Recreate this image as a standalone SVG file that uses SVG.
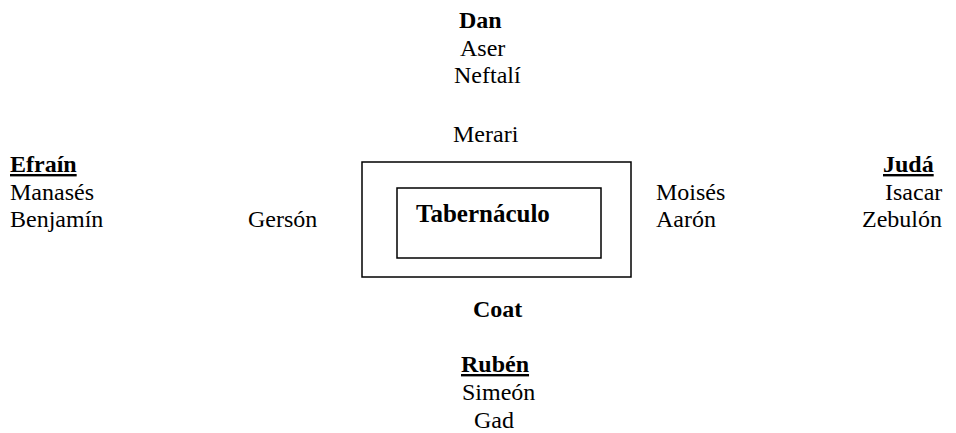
<svg xmlns="http://www.w3.org/2000/svg" width="956" height="433" viewBox="0 0 956 433">
<style>
text{font-family:"Liberation Serif","Times New Roman",serif;font-size:24px;fill:#000}
.b{font-weight:bold}
.u{text-decoration:underline}
.box{fill:none;stroke:#000;stroke-width:1.5}
</style>
<rect width="956" height="433" fill="#fff"/>
<g id="north">
<text class="b" x="459" y="28">Dan</text>
<text x="460" y="56">Aser</text>
<text x="454" y="83">Neftalí</text>
</g>
<g id="merari"><text x="453" y="142">Merari</text></g>
<g id="west">
<text class="b u" x="10" y="172">Efraín</text>
<text x="10" y="199.5">Manasés</text>
<text x="10" y="227">Benjamín</text>
</g>
<g id="gerson"><text x="248" y="227">Gersón</text></g>
<g id="tabernacle">
<rect class="box" x="362" y="162" width="269" height="115"/>
<rect class="box" x="397" y="188" width="204" height="70"/>
<text class="b" x="416" y="222" style="font-size:25px">Tabernáculo</text>
</g>
<g id="moises">
<text x="656" y="199.5">Moisés</text>
<text x="656" y="227">Aarón</text>
</g>
<g id="east">
<text class="b u" x="883" y="172">Judá</text>
<text x="885" y="199.5">Isacar</text>
<text x="862" y="227">Zebulón</text>
</g>
<g id="coat"><text class="b" x="473" y="317">Coat</text></g>
<g id="south">
<text class="b u" x="461" y="372">Rubén</text>
<text x="462" y="400">Simeón</text>
<text x="474" y="428">Gad</text>
</g>
<g id="connectors"></g>
</svg>
